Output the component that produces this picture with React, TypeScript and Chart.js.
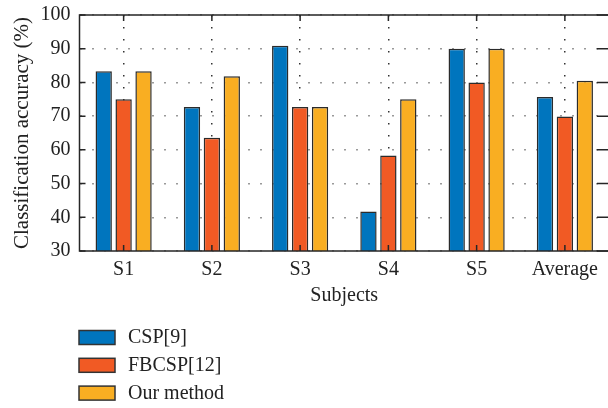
import React, { useEffect, useRef } from "react";
import { Chart, registerables } from "chart.js";

Chart.register(...registerables);

const categories = ["S1", "S2", "S3", "S4", "S5", "Average"];
const seriesNames = ["CSP[9]", "FBCSP[12]", "Our method"];
const cspValues = [83.3, 72.7, 90.9, 41.7, 90.0, 75.7];
const fbcspValues = [75.0, 63.6, 72.7, 58.3, 80.0, 69.9];
const oursValues = [83.3, 81.8, 72.7, 75.0, 90.0, 80.5];
const yMin = 30;
const yMax = 100;
const yStep = 10;

const colors = ["#0075BE", "#F15A24", "#F9AE22"];
const FONT = '"Liberation Serif", "Times New Roman", serif';
const TEXT = "#222222";

const boxPlugin = {
  id: "matlabBox",
  afterDatasetsDraw(chart: any) {
    const { ctx, chartArea } = chart;
    const { left, right, top, bottom } = chartArea;
    const ys = chart.scales.y;
    const xs = chart.scales.x;
    ctx.save();
    ctx.strokeStyle = "#262626";
    ctx.lineWidth = 1.5;
    ctx.setLineDash([]);
    ctx.beginPath();
    ys.ticks.forEach((t: any) => {
      const py = ys.getPixelForValue(t.value);
      ctx.moveTo(left, py);
      ctx.lineTo(left + 6, py);
      ctx.moveTo(right, py);
      ctx.lineTo(right - 12, py);
    });
    xs.ticks.forEach((_t: any, i: number) => {
      const px = xs.getPixelForTick(i);
      ctx.moveTo(px, bottom);
      ctx.lineTo(px, bottom - 6);
      ctx.moveTo(px, top);
      ctx.lineTo(px, top + 6);
    });
    ctx.stroke();
    ctx.strokeRect(left, top, right - left, bottom - top);
    ctx.restore();
  },
  afterDraw(chart: any) {
    const { ctx, chartArea } = chart;
    const x0 = chartArea.left - 0.5;
    ctx.save();
    chart.data.datasets.forEach((ds: any, i: number) => {
      const cy = chartArea.bottom + 86.5 + i * 27.8;
      ctx.fillStyle = ds.backgroundColor;
      ctx.fillRect(x0, cy - 7, 36, 14);
      ctx.strokeStyle = "#333";
      ctx.lineWidth = 1.5;
      ctx.strokeRect(x0, cy - 7, 36, 14);
      ctx.fillStyle = TEXT;
      ctx.font = `20px ${FONT}`;
      ctx.textBaseline = "middle";
      ctx.textAlign = "left";
      ctx.fillText(ds.label, x0 + 49, cy + 0.5);
    });
    ctx.restore();
  },
};

export default function App() {
  const ref = useRef<HTMLCanvasElement | null>(null);

  useEffect(() => {
    if (!ref.current) return;
    const values = [cspValues, fbcspValues, oursValues];
    const chart = new Chart(ref.current, {
      type: "bar",
      data: {
        labels: categories,
        datasets: seriesNames.map((name, i) => ({
          label: name,
          data: values[i],
          backgroundColor: colors[i],
          borderColor: "#2b2b2b",
          borderWidth: 1.5,
          barPercentage: 0.82,
          categoryPercentage: 0.677,
        })),
      },
      options: {
        responsive: false,
        animation: false,
        devicePixelRatio: 1,
        layout: { padding: { left: 0, right: 1, top: 15, bottom: 100 } },
        plugins: {
          legend: { display: false },
          tooltip: { enabled: false },
          title: { display: false },
        },
        scales: {
          x: {
            grid: {
              offset: false,
              drawTicks: false,
              color: "#333333",
              lineWidth: 1.5,
            },
            border: { display: false, dash: [1.5, 10.5] },
            ticks: {
              color: TEXT,
              font: { family: FONT, size: 20 },
              padding: 7,
              maxRotation: 0,
            },
            title: {
              display: true,
              text: "Subjects",
              color: TEXT,
              font: { family: FONT, size: 20 },
              padding: { top: 0, bottom: 0 },
            },
            afterFit: (s: any) => {
              s.height = 57;
            },
          },
          y: {
            min: yMin,
            max: yMax,
            grid: {
              drawTicks: false,
              color: "#9a9a9a",
              lineWidth: 1.5,
            },
            border: { display: false, dash: [2, 10] },
            ticks: {
              stepSize: yStep,
              color: TEXT,
              font: { family: FONT, size: 20 },
              padding: 9,
            },
            title: {
              display: true,
              text: "Classification accuracy (%)",
              color: TEXT,
              font: { family: FONT, size: 21 },
              padding: { top: 9.5, bottom: 0 },
            },
            afterFit: (s: any) => {
              s.width = 79.5;
              s.paddingTop = 0;
              s.paddingBottom = 0;
            },
          },
        },
      },
      plugins: [boxPlugin],
    });
    return () => chart.destroy();
  }, []);

  return (
    <div
      style={{
        position: "fixed",
        left: 0,
        top: 0,
        width: 608,
        height: 408,
        overflow: "hidden",
        background: "#ffffff",
      }}
    >
      <canvas ref={ref} width={610} height={408} style={{ display: "block" }} />
    </div>
  );
}
